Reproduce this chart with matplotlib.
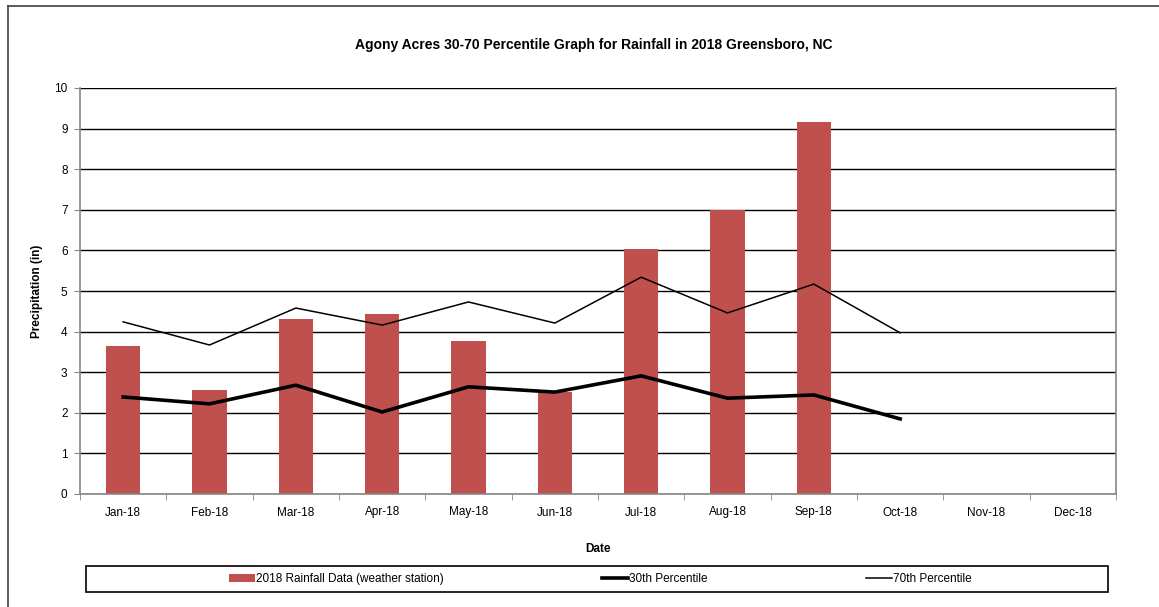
import matplotlib.pyplot as plt
from matplotlib.patches import Rectangle
from matplotlib.lines import Line2D
import numpy as np

months = ['Jan-18', 'Feb-18', 'Mar-18', 'Apr-18', 'May-18', 'Jun-18',
          'Jul-18', 'Aug-18', 'Sep-18', 'Oct-18', 'Nov-18', 'Dec-18']
rain_2018 = [3.65, 2.56, 4.31, 4.43, 3.77, 2.51, 6.03, 7.0, 9.16]
pct_30 = [2.39, 2.22, 2.68, 2.02, 2.64, 2.51, 2.91, 2.36, 2.44, 1.85]
pct_70 = [4.24, 3.67, 4.58, 4.16, 4.73, 4.21, 5.34, 4.46, 5.17, 3.97]

plt.rcParams['font.family'] = ['Liberation Sans', 'DejaVu Sans']

fig = plt.figure(figsize=(11.59, 6.07), dpi=100)
ax = fig.add_axes([80 / 1159, 113 / 607, 1036 / 1159, 406 / 607])

x = np.arange(len(months))
bars = ax.bar(x[:len(rain_2018)], rain_2018, width=0.4, color='#c0504d',
              label='2018 Rainfall Data (weather station)', zorder=2)
l30, = ax.plot(x[:len(pct_30)], pct_30, color='black', lw=2.6,
               label='30th Percentile', zorder=3)
l70, = ax.plot(x[:len(pct_70)], pct_70, color='black', lw=1.1,
               label='70th Percentile', zorder=3)

ax.set_xlim(-0.5, 11.5)
ax.set_ylim(0, 10)
ax.set_yticks(range(0, 11))
ax.yaxis.grid(True, color='black', lw=1)
ax.set_axisbelow(True)
ax.set_xticks(x)
ax.set_xticklabels(months, fontsize=8.5)
ax.set_xticks(np.arange(-0.5, 12, 1), minor=True)
ax.tick_params(axis='x', which='major', length=0, pad=9)
ax.tick_params(axis='x', which='minor', length=4, color='#868686')
ax.tick_params(axis='y', length=4, color='#868686', labelsize=8.5, pad=5)
for s in ['left', 'bottom', 'right']:
    ax.spines[s].set_color('#868686')
    ax.spines[s].set_linewidth(1.2)
ax.spines['top'].set_visible(False)

ax.set_xlabel('Date', fontsize=8.5, fontweight='bold', labelpad=18)
ax.set_ylabel('Precipitation (in)', fontsize=8.5, fontweight='bold', labelpad=8)
fig.text(594 / 1159, 1 - 45 / 607,
         'Agony Acres 30-70 Percentile Graph for Rainfall in 2018 Greensboro, NC',
         ha='center', va='center', fontsize=10, fontweight='bold')

# legend box drawn separately so its width matches the reference
fig.patches.append(Rectangle((86 / 1159, 1 - 592 / 607), 1022 / 1159, 26 / 607,
                             transform=fig.transFigure, fill=False,
                             edgecolor='black', lw=1.2))
leg = fig.legend(handles=[bars, l30, l70], loc='center',
                 bbox_to_anchor=(600 / 1159, 1 - 579 / 607),
                 ncol=3, fontsize=8.5, frameon=False,
                 handlelength=2.2, handletextpad=0.1, columnspacing=13.4)

# outer chart border (top and left only visible)
fig.lines.append(Line2D([7.5 / 1159, 7.5 / 1159], [0, 1 - 5.5 / 607],
                        transform=fig.transFigure, color='#404040', lw=1.2))
fig.lines.append(Line2D([7.5 / 1159, 1], [1 - 5.5 / 607, 1 - 5.5 / 607],
                        transform=fig.transFigure, color='#404040', lw=1.2))

fig.savefig('out.png', dpi=100)
